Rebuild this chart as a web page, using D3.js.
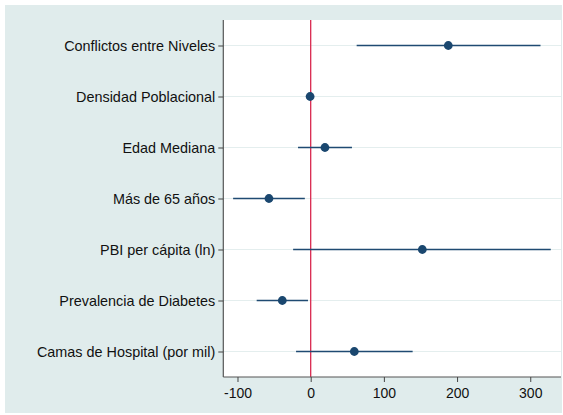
<!DOCTYPE html>
<html>
<head>
<meta charset="utf-8">
<script src="https://cdn.jsdelivr.net/npm/d3@7"></script>
<style>
  html, body { margin: 0; padding: 0; background: #ffffff; }
  svg { display: block; }
  text { font-family: "Liberation Sans", Arial, Helvetica, sans-serif; fill: #111; }
</style>
</head>
<body>
<script>
// Coefficient estimates with confidence intervals
const categories = [
  "Conflictos entre Niveles",
  "Densidad Poblacional",
  "Edad Mediana",
  "Más de 65 años",
  "PBI per cápita (ln)",
  "Prevalencia de Diabetes",
  "Camas de Hospital (por mil)"
];
const estimates = [188, -0.8, 19.5, -57, 152.5, -38.8, 59.6];
const lower     = [62.8, -2, -17.3, -106, -24, -73.8, -20];
const upper     = [314, 0.5, 56.4, -8, 328, -3.7, 139.3];
const xTicks    = [-100, 0, 100, 200, 300];

const W = 563, H = 415;
const plot = { left: 223.3, right: 561, top: 20, bottom: 377 };

const svg = d3.select("body").append("svg")
  .attr("width", W).attr("height", H);

// graph region background
svg.append("rect")
  .attr("x", 5).attr("y", 5)
  .attr("width", W - 6).attr("height", H - 7)
  .attr("fill", "#e0ecec");

// plot region
svg.append("rect")
  .attr("x", plot.left).attr("y", plot.top)
  .attr("width", plot.right - plot.left).attr("height", plot.bottom - plot.top)
  .attr("fill", "#ffffff");

const x = d3.scaleLinear()
  .domain([-119.4, 342])
  .range([plot.left, plot.right]);

const y = d3.scalePoint()
  .domain(categories)
  .range([plot.top, plot.bottom])
  .padding(0.5);

// horizontal gridlines
svg.append("g").selectAll("line")
  .data(categories)
  .join("line")
  .attr("x1", plot.left).attr("x2", plot.right)
  .attr("y1", d => y(d)).attr("y2", d => y(d))
  .attr("stroke", "#e4eeee").attr("stroke-width", 1);

// reference line at zero
svg.append("line")
  .attr("x1", x(0)).attr("x2", x(0))
  .attr("y1", plot.top).attr("y2", plot.bottom)
  .attr("stroke", "#d9284f").attr("stroke-width", 1.3);

// confidence intervals
svg.append("g").selectAll("line")
  .data(categories)
  .join("line")
  .attr("x1", (d, i) => x(lower[i]))
  .attr("x2", (d, i) => x(upper[i]))
  .attr("y1", d => y(d)).attr("y2", d => y(d))
  .attr("stroke", "#1f4a72").attr("stroke-width", 1.4);

// point estimates
svg.append("g").selectAll("circle")
  .data(categories)
  .join("circle")
  .attr("cx", (d, i) => x(estimates[i]))
  .attr("cy", d => y(d))
  .attr("r", 4.4)
  .attr("fill", "#1a476f");

// y axis
const yAxis = svg.append("g")
  .attr("transform", `translate(${plot.left},0)`)
  .call(d3.axisLeft(y).tickSize(5).tickPadding(3));
yAxis.select(".domain").attr("stroke", "#555").attr("stroke-width", 1.2)
  .attr("d", `M0,${plot.top}V${plot.bottom}`);
yAxis.selectAll(".tick line").attr("stroke", "#444");
yAxis.selectAll(".tick text")
  .attr("font-size", 14.4).attr("fill", "#111")
  .style("font-family", "'Liberation Sans', Arial, sans-serif");

// x axis
const xAxis = svg.append("g")
  .attr("transform", `translate(0,${plot.bottom})`)
  .call(d3.axisBottom(x).tickValues(xTicks).tickFormat(d => String(d))
    .tickSize(5).tickPadding(6));
xAxis.select(".domain").attr("stroke", "#555").attr("stroke-width", 1.2)
  .attr("d", `M${plot.left},0H${plot.right}`);
xAxis.selectAll(".tick line").attr("stroke", "#444");
xAxis.selectAll(".tick text")
  .attr("font-size", 14).attr("fill", "#111")
  .style("font-family", "'Liberation Sans', Arial, sans-serif");
</script>
</body>
</html>
